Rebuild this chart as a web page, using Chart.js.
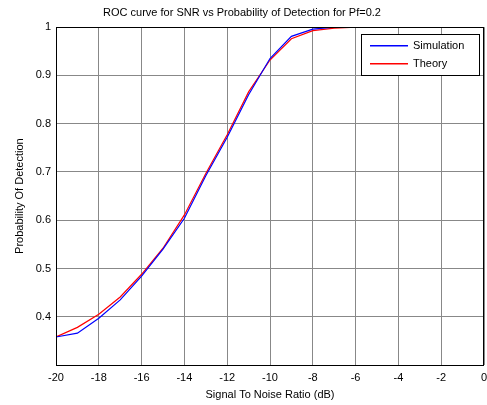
<!DOCTYPE html>
<html lang="en">
<head>
    <meta charset="UTF-8">
    <title>ROC curve for SNR vs Probability of Detection</title>
    <script src="https://cdn.jsdelivr.net/npm/chart.js"></script>
    <style>
        html, body {
            margin: 0;
            padding: 0;
            background-color: white;
        }
        canvas {
            display: block;
        }
    </style>
</head>
<body>
    <canvas id="rocChart" width="487" height="405"></canvas>

    <script>
        // SNR values (dB)
        const snr = [-20, -19, -18, -17, -16, -15, -14, -13, -12, -11, -10, -9, -8, -7, -6, -5, -4, -3, -2, -1, 0];
        // Probability of detection
        const simulation = [0.358, 0.366, 0.397, 0.435, 0.484, 0.540, 0.604, 0.692, 0.772, 0.860, 0.935, 0.981, 0.996, 1.0, 1.0, 1.0, 1.0, 1.0, 1.0, 1.0, 1.0];
        const theory = [0.358, 0.378, 0.405, 0.441, 0.488, 0.542, 0.611, 0.697, 0.777, 0.866, 0.932, 0.976, 0.993, 0.998, 1.0, 1.0, 1.0, 1.0, 1.0, 1.0, 1.0];
        const xTicks = [-20, -18, -16, -14, -12, -10, -8, -6, -4, -2, 0];
        const yTicks = [0.4, 0.5, 0.6, 0.7, 0.8, 0.9, 1];
        const seriesColors = ['#0000ff', '#ff0000'];

        const font = { family: 'Arial, "Liberation Sans", sans-serif', size: 11 };
        const gridStyle = {
            color: '#888',
            lineWidth: 1,
            drawTicks: false
        };

        // box round the plot plus a MATLAB style legend in the corner
        const framePlugin = {
            id: 'frame',
            afterDraw(chart) {
                const ctx = chart.ctx;
                const a = chart.chartArea;
                ctx.save();
                ctx.strokeStyle = '#000';
                ctx.lineWidth = 1;
                ctx.strokeRect(Math.round(a.left) + 0.5, Math.round(a.top) + 0.5,
                    Math.round(a.right - a.left) - 1, Math.round(a.bottom - a.top));

                const bx = Math.round(a.right) - 123, by = Math.round(a.top) + 7, bw = 118, bh = 41;
                ctx.fillStyle = '#fff';
                ctx.fillRect(bx, by, bw, bh);
                ctx.strokeRect(bx + 0.5, by + 0.5, bw, bh);
                ctx.font = '11px ' + font.family;
                ctx.textBaseline = 'middle';
                chart.data.datasets.forEach((ds, i) => {
                    const y = by + 11 + i * 18;
                    ctx.strokeStyle = seriesColors[i];
                    ctx.lineWidth = 1.5;
                    ctx.beginPath();
                    ctx.moveTo(bx + 9, y + 0.75);
                    ctx.lineTo(bx + 47, y + 0.75);
                    ctx.stroke();
                    ctx.fillStyle = '#000';
                    ctx.fillText(ds.label, bx + 52, y + 0.5);
                });
                ctx.restore();
            }
        };

        new Chart(document.getElementById('rocChart'), {
            type: 'line',
            data: {
                datasets: [
                    {
                        label: 'Simulation',
                        data: snr.map((x, i) => ({ x: x, y: simulation[i] })),
                        borderColor: seriesColors[0],
                        borderWidth: 1.2,
                        pointRadius: 0,
                        tension: 0
                    },
                    {
                        label: 'Theory',
                        data: snr.map((x, i) => ({ x: x, y: theory[i] })),
                        borderColor: seriesColors[1],
                        borderWidth: 1.2,
                        pointRadius: 0,
                        tension: 0
                    }
                ]
            },
            options: {
                responsive: false,
                animation: false,
                layout: { padding: { right: 3, left: 0, top: 0, bottom: 0 } },
                plugins: {
                    legend: { display: false },
                    tooltip: { enabled: false },
                    title: {
                        display: true,
                        text: 'ROC curve for SNR vs Probability of Detection for Pf=0.2',
                        color: '#000',
                        font: { ...font, weight: 'normal' },
                        padding: { top: 6, bottom: 8 }
                    }
                },
                scales: {
                    x: {
                        type: 'linear',
                        min: -20,
                        max: 0,
                        grid: gridStyle,
                        border: { display: false },
                        ticks: { color: '#000', font: font, padding: 6, maxRotation: 0, autoSkip: false },
                        afterBuildTicks(scale) {
                            scale.ticks = xTicks.map(v => ({ value: v }));
                        },
                        afterFit(scale) {
                            scale.height = 40;
                            scale.paddingLeft = 0;
                            scale.paddingRight = 0;
                        },
                        title: {
                            display: true,
                            text: 'Signal To Noise Ratio (dB)',
                            color: '#000',
                            font: font,
                            padding: { top: 3, bottom: 3 }
                        }
                    },
                    y: {
                        type: 'linear',
                        min: 0.3,
                        max: 1,
                        grid: gridStyle,
                        border: { display: false },
                        ticks: {
                            color: '#000', font: font, padding: 5, autoSkip: false,
                            callback: v => String(Math.round(v * 10) / 10)
                        },
                        afterBuildTicks(scale) {
                            scale.ticks = yTicks.map(v => ({ value: v }));
                        },
                        afterFit(scale) {
                            scale.width = 56;
                            scale.paddingTop = 0;
                            scale.paddingBottom = 0;
                        },
                        title: {
                            display: true,
                            text: 'Probability Of Detection',
                            color: '#000',
                            font: font,
                            padding: { top: 13, bottom: 0 }
                        }
                    }
                }
            },
            plugins: [framePlugin]
        });
    </script>
</body>
</html>
